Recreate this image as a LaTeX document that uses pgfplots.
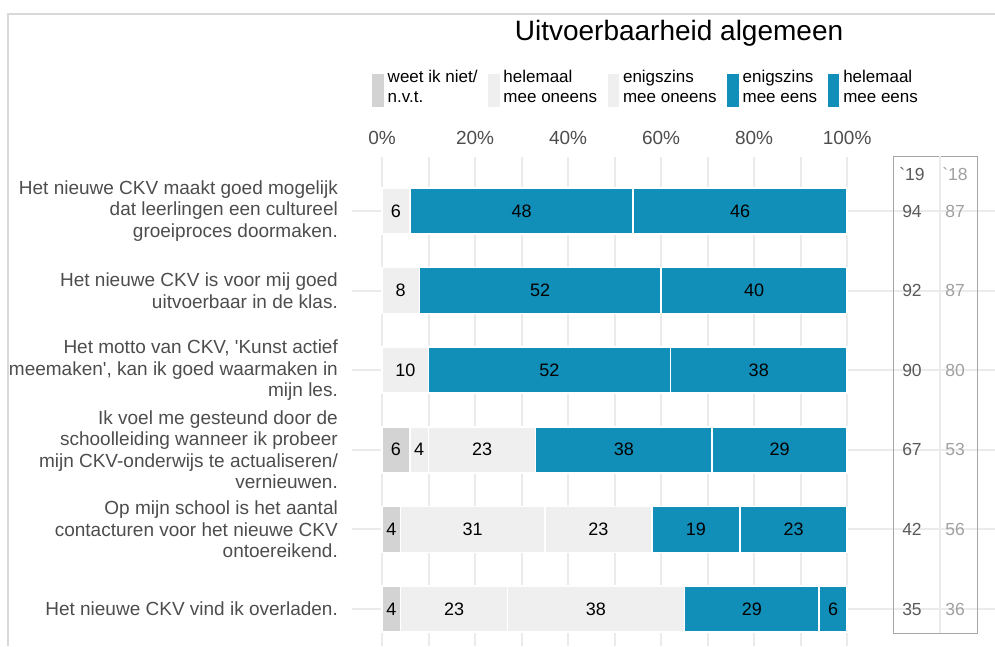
\documentclass[border=0pt]{standalone}
\usepackage{pgfplots}
\pgfplotsset{compat=1.18}
\usepackage{pgfplotstable}
\usepackage{fontspec}
\setmainfont{Liberation Sans}[Ligatures=TeXOff]
\definecolor{cblue}{HTML}{118FB8}
\definecolor{clight}{HTML}{EFEFEF}
\definecolor{cdk}{HTML}{D3D3D3}
\definecolor{cgrid}{HTML}{EBEBEB}
\definecolor{ctext}{HTML}{4D4D4D}
\definecolor{cframe}{HTML}{D9D9D9}
\definecolor{cbox}{HTML}{A6A6A6}
\definecolor{cnine}{HTML}{595959}
\definecolor{ceight}{HTML}{A0A0A0}
\newcommand{\fs}[2]{\fontsize{#1}{#2}\selectfont}

\pgfplotstableread{
y dk hmo emo eme hme
5 0 0 6 48 46
4 0 0 8 52 40
3 0 0 10 52 38
2 6 4 23 38 29
1 4 31 23 19 23
0 4 23 38 29 6
}\data

% centres of the segments and their values
\pgfplotstableread{
x y lab
3 5 6
30 5 48
77 5 46
4 4 8
34 4 52
80 4 40
5 3 10
36 3 52
81 3 38
3 2 6
8 2 4
21.5 2 23
52 2 38
85.5 2 29
2 1 4
19.5 1 31
46.5 1 23
67.5 1 19
88.5 1 23
2 0 4
15.5 0 23
46 0 38
79.5 0 29
97 0 6
}\labels

\pgfplotstableread{
y v19 v18
5 94 87
4 92 87
3 90 80
2 67 53
1 42 56
0 35 36
}\totals

\pgfplotsset{
  geom/.style={
    scale only axis,
    width=643pt, height=489pt,
    xmin=-6.45, xmax=131.8,
    ymin=-0.465, ymax=5.678,
    clip=false,
  }
}

\begin{document}
\begin{tikzpicture}
\begin{axis}[
  geom,
  xbar stacked,
  bar width=0.578,
  axis line style={draw=none},
  tick style={draw=none},
  major tick length=0pt, minor tick length=0pt,
  xtick={0,20,40,60,80,100},
  minor xtick={10,30,50,70,90},
  xticklabels={0\%,20\%,40\%,60\%,80\%,100\%},
  xticklabel pos=right,
  xticklabel style={font=\fs{19}{22}, text=ctext, anchor=base, inner sep=0pt, yshift=13pt},
  xmajorgrids, xminorgrids, ymajorgrids,
  grid style={cgrid, line width=2pt},
  minor grid style={cgrid, line width=2pt},
  ytick={0,1,2,3,4,5},
  yticklabels={
    {Het nieuwe CKV vind ik overladen.},
    {Op mijn school is het aantal\\contacturen voor het nieuwe CKV\\ontoereikend.},
    {Ik voel me gesteund door de\\schoolleiding wanneer ik probeer\\mijn CKV-onderwijs te actualiseren/\\vernieuwen.},
    {Het motto van CKV, 'Kunst actief\\meemaken', kan ik goed waarmaken in\\mijn les.},
    {Het nieuwe CKV is voor mij goed\\uitvoerbaar in de klas.},
    {Het nieuwe CKV maakt goed mogelijk\\dat leerlingen een cultureel\\groeiproces doormaken.}},
  yticklabel style={font=\fs{19}{21.5}, text=ctext, align=right, anchor=east, inner sep=0pt, xshift=-14pt},
  legend columns=5,
  legend cell align=left,
  legend style={at={(axis cs:-2.15,6.771)}, anchor=north west, draw=none, fill=none,
    font=\fs{17}{19.5}, inner sep=0pt, nodes={inner sep=0pt, align=left},
    /tikz/every even column/.append style={column sep=10.5pt}},
]
\addplot[fill=cdk, draw=white, line width=1.5pt,
  legend image code/.code={\fill[cdk] (0pt,-19pt) rectangle (10pt,12pt); \path (14pt,0pt);}]
  table[x=dk, y=y] {\data};
\addlegendentry{weet ik niet/\\n.v.t.}
\addplot[fill=clight, draw=white, line width=1.5pt,
  legend image code/.code={\fill[clight] (0pt,-19pt) rectangle (10pt,12pt); \path (14pt,0pt);}]
  table[x=hmo, y=y] {\data};
\addlegendentry{helemaal\\mee oneens}
\addplot[fill=clight, draw=white, line width=1.5pt,
  legend image code/.code={\fill[clight] (0pt,-19pt) rectangle (10pt,12pt); \path (14pt,0pt);}]
  table[x=emo, y=y] {\data};
\addlegendentry{enigszins\\mee oneens}
\addplot[fill=cblue, draw=white, line width=1.5pt,
  legend image code/.code={\fill[cblue] (0pt,-19pt) rectangle (10pt,12pt); \path (14pt,0pt);}]
  table[x=eme, y=y] {\data};
\addlegendentry{enigszins\\mee eens}
\addplot[fill=cblue, draw=white, line width=1.5pt,
  legend image code/.code={\fill[cblue] (0pt,-19pt) rectangle (10pt,12pt); \path (14pt,0pt);}]
  table[x=hme, y=y] {\data};
\addlegendentry{helemaal\\mee eens}

% right box
\draw[cgrid, line width=1.5pt] (axis cs:119.97,-0.302) -- (axis cs:119.97,5.691);
\draw[cbox, line width=1pt] (axis cs:109.87,-0.302) rectangle (axis cs:127.93,5.691);
\node[font=\fs{17.5}{20}, text=cnine] at (axis cs:113.95,5.465) {`19};
\node[font=\fs{17.5}{20}, text=ceight] at (axis cs:123.2,5.465) {`18};

% title and frame
\node[font=\fs{28}{32}, text=black, anchor=base] at (axis cs:63.86,7.148) {Uitvoerbaarheid algemeen};
\draw[cframe, line width=2pt] (axis cs:-80.4,-0.465) -- (axis cs:-80.4,7.475) -- (axis cs:131.8,7.475);
\coordinate (TL) at (axis cs:-82.15,7.651);
\coordinate (BR) at (axis cs:131.8,-0.465);
\end{axis}

\begin{axis}[geom, hide axis]
\addplot[draw=none, mark=none, nodes near coords, point meta=explicit symbolic,
  every node near coord/.append style={anchor=center, font=\fs{18}{20}, text=black}]
  table[x=x, y=y, meta=lab] {\labels};
\addplot[draw=none, mark=none, nodes near coords, point meta=explicit symbolic,
  every node near coord/.append style={anchor=center, font=\fs{17.5}{20}, text=cnine}]
  table[x expr=113.95, y=y, meta=v19] {\totals};
\addplot[draw=none, mark=none, nodes near coords, point meta=explicit symbolic,
  every node near coord/.append style={anchor=center, font=\fs{17.5}{20}, text=ceight}]
  table[x expr=123.2, y=y, meta=v18] {\totals};
\end{axis}
\pgfresetboundingbox
\path[use as bounding box] (TL) rectangle (BR);
\end{tikzpicture}
\end{document}
